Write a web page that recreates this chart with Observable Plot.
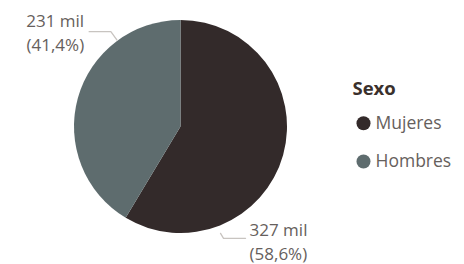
<!DOCTYPE html>
<html><head><meta charset="utf-8">
<script src="https://cdn.jsdelivr.net/npm/d3@7"></script>
<script src="https://cdn.jsdelivr.net/npm/@observablehq/plot@0.6"></script>
<style>body{margin:0;background:#fff;}</style>
</head><body><div id="chart"></div>
<script>
// Data
const sexos = ["Mujeres", "Hombres"];
const valoresMil = [327, 231];
const porcentajes = [58.6, 41.4];
const colores = ["#332a2a", "#5e6c6e"];
const leyendaTitulo = "Sexo";

// Layout (pixels)
const W = 464, H = 264, CX = 180.5, CY = 126.5, R = 106.5;
const ux = px => (px - CX) / R, uy = py => (CY - py) / R;

const data = sexos.map((s, i) => ({sexo: s, valor: valoresMil[i], pct: porcentajes[i]}));
const arcs = d3.pie().sort(null).value(d => d.valor)(data);

// Leader lines: anchor angle (deg, clockwise from top), radius factor, elbow offset px, horizontal length px
const leaders = [
  {ang: 159.6, rad: 1.065, ex: 3, ey: 5, len: 22, side: 1},
  {ang: 323.6, rad: 1.015, ex: -6, ey: -8.3, len: -21.7, side: -1}
];
const lines = [], labels = [];
data.forEach((d, i) => {
  const L = leaders[i], t = L.ang * Math.PI / 180;
  const ax = L.rad * Math.sin(t), ay = L.rad * Math.cos(t);
  const bx = ax + L.ex / R, by = ay - L.ey / R;
  const cx = bx + L.len / R, cy = by;
  lines.push({k: i, x: ax, y: ay}, {k: i, x: bx, y: by}, {k: i, x: cx, y: cy});
  labels.push({x: cx, y: cy, side: L.side,
    text: `${d.valor} mil\n(${d.pct.toFixed(1).replace(".", ",")}%)`});
});

function pieMark(index, scales) {
  const cx = scales.x(0), cy = scales.y(0), r = scales.x(1) - cx;
  const g = d3.create("svg:g").attr("transform", `translate(${cx},${cy})`);
  const arc = d3.arc().innerRadius(0).outerRadius(r);
  g.selectAll("path").data(arcs).join("path")
    .attr("d", arc).attr("fill", d => scales.color(d.data.sexo));
  return g.node();
}

const legendY = [122.7, 161];
const legend = sexos.map((s, i) => ({sexo: s, x: ux(363), y: uy(legendY[i])}));

const FONT = "'Open Sans', sans-serif";
const chart = Plot.plot({
  width: W, height: H, margin: 0,
  x: {domain: [-1, 1], range: [CX - R, CX + R], axis: null},
  y: {domain: [-1, 1], range: [CY + R, CY - R], axis: null},
  color: {domain: sexos, range: colores},
  style: {fontFamily: FONT, background: "#fff"},
  marks: [
    pieMark,
    Plot.line(lines, {x: "x", y: "y", z: "k", stroke: "#c8c4c0", strokeWidth: 1.3}),
    Plot.text(labels.filter(d => d.side > 0), {x: "x", y: "y", text: "text", textAnchor: "start", lineAnchor: "middle",
      dx: 4, dy: 2, fontSize: 17, lineHeight: 1.38, fill: "#66605c"}),
    Plot.text(labels.filter(d => d.side < 0), {x: "x", y: "y", text: "text", textAnchor: "end", lineAnchor: "middle",
      dx: -5, dy: 0, fontSize: 17, lineHeight: 1.38, fill: "#66605c"}),
    Plot.text([leyendaTitulo], {x: ux(352), y: uy(89), text: d => d, textAnchor: "start", lineAnchor: "middle",
      fontSize: 18.5, fontWeight: "bold", fill: "#3a302c"}),
    Plot.dot(legend, {x: "x", y: "y", fill: "sexo", r: 7}),
    Plot.text(legend, {x: ux(375), y: "y", text: "sexo", textAnchor: "start", lineAnchor: "middle",
      fontSize: 17.5, fill: "#66605c"})
  ]
});
document.getElementById("chart").append(chart);
</script>
</body></html>
